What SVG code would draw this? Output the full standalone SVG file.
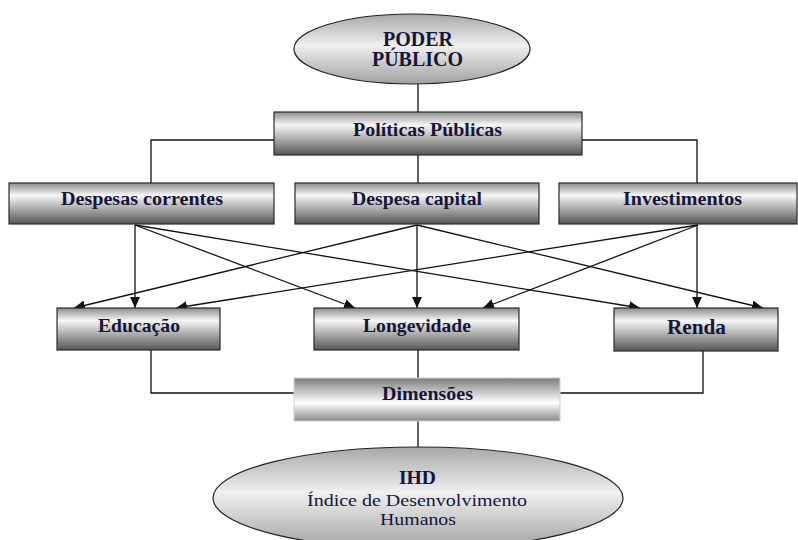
<svg xmlns="http://www.w3.org/2000/svg" width="798" height="540" viewBox="0 0 798 540">
<style>
.box{fill:url(#gBox);stroke:#2a2a2a;stroke-width:1.2}
.dim{fill:url(#gDim);stroke:#d0d0d0;stroke-width:1}
.ell{fill:url(#gEll);stroke:#222;stroke-width:1.2}
text{font-family:'Liberation Serif','DejaVu Serif',serif;fill:#16163a;text-anchor:middle}
.t{font-weight:bold}
.r{font-weight:normal}
.ln{fill:none;stroke:#111;stroke-width:1.3}
.ar{fill:none;stroke:#111;stroke-width:1.3;marker-end:url(#ah)}
</style>
<defs>
<linearGradient id="gBox" x1="0" y1="0" x2="0" y2="1">
<stop offset="0" stop-color="#8c8c8c"/>
<stop offset="0.3" stop-color="#f6f6f6"/>
<stop offset="1" stop-color="#555"/>
</linearGradient>
<linearGradient id="gDim" x1="0" y1="0" x2="0" y2="1">
<stop offset="0" stop-color="#7c7c7c"/>
<stop offset="0.58" stop-color="#ffffff"/>
<stop offset="1" stop-color="#8a8a8a"/>
</linearGradient>
<linearGradient id="gEll" x1="0" y1="0" x2="0" y2="1">
<stop offset="0" stop-color="#a8a8a8"/>
<stop offset="0.45" stop-color="#f0f0f0"/>
<stop offset="1" stop-color="#a0a0a0"/>
</linearGradient>
<marker id="ah" markerUnits="userSpaceOnUse" markerWidth="11" markerHeight="10" refX="11" refY="5" orient="auto">
<path d="M0,0 L11,5 L0,10 z" fill="#111"/>
</marker>
</defs>

<g id="connectors">
<path class="ln" d="M418,84 V112"/>
<path class="ln" d="M418,155 V183"/>
<path class="ln" d="M274,140 H151 V183"/>
<path class="ln" d="M582,140 H697 V183"/>
<path class="ar" d="M135,225 L135,308"/>
<path class="ar" d="M135,225 L355,308"/>
<path class="ar" d="M135,225 L640,308"/>
<path class="ar" d="M417,225 L74,308"/>
<path class="ar" d="M417,225 L417,308"/>
<path class="ar" d="M417,225 L763,308"/>
<path class="ar" d="M698,225 L176,308"/>
<path class="ar" d="M698,225 L483,308"/>
<path class="ar" d="M697,225 L697,308"/>
<path class="ln" d="M151,350 V393 H294"/>
<path class="ln" d="M418,350 V378"/>
<path class="ln" d="M703,351 V393 H560"/>
<path class="ln" d="M418,421 V447"/>
</g>

<g id="poder-publico">
<ellipse class="ell" cx="412" cy="49" rx="118" ry="35"/>
<text class="t" x="418" y="46" font-size="20" textLength="70" lengthAdjust="spacingAndGlyphs">PODER</text>
<text class="t" x="417.5" y="66" font-size="20" textLength="91" lengthAdjust="spacingAndGlyphs">PÚBLICO</text>
</g>

<g id="politicas-publicas">
<rect class="box" x="274" y="112" width="308" height="43"/>
<text class="t" x="427.5" y="136" font-size="18" textLength="149" lengthAdjust="spacingAndGlyphs">Políticas Públicas</text>
</g>

<g id="despesas-correntes">
<rect class="box" x="9" y="183" width="265" height="41"/>
<text class="t" x="142" y="205" font-size="18" textLength="162" lengthAdjust="spacingAndGlyphs">Despesas correntes</text>
</g>

<g id="despesa-capital">
<rect class="box" x="295" y="183" width="244" height="41"/>
<text class="t" x="417" y="205" font-size="18" textLength="130" lengthAdjust="spacingAndGlyphs">Despesa capital</text>
</g>

<g id="investimentos">
<rect class="box" x="559" y="183" width="238" height="41"/>
<text class="t" x="682.5" y="205" font-size="18" textLength="119" lengthAdjust="spacingAndGlyphs">Investimentos</text>
</g>

<g id="educacao">
<rect class="box" x="57" y="308" width="163" height="42"/>
<text class="t" x="139" y="332" font-size="18" textLength="82" lengthAdjust="spacingAndGlyphs">Educação</text>
</g>

<g id="longevidade">
<rect class="box" x="314" y="308" width="205" height="42"/>
<text class="t" x="417" y="332" font-size="18" textLength="108" lengthAdjust="spacingAndGlyphs">Longevidade</text>
</g>

<g id="renda">
<rect class="box" x="614" y="308" width="164" height="43"/>
<text class="t" x="696.5" y="334" font-size="21" textLength="59" lengthAdjust="spacingAndGlyphs">Renda</text>
</g>

<g id="dimensoes">
<rect class="dim" x="294" y="378" width="266" height="43"/>
<text class="t" x="427.5" y="400" font-size="18" textLength="91" lengthAdjust="spacingAndGlyphs">Dimensões</text>
</g>

<g id="ihd">
<ellipse class="ell" cx="418" cy="498" rx="205" ry="51"/>
<text class="t" x="417.5" y="484" font-size="18" textLength="37" lengthAdjust="spacingAndGlyphs">IHD</text>
<text class="r" x="417" y="506" font-size="16" textLength="220" lengthAdjust="spacingAndGlyphs">Índice de Desenvolvimento</text>
<text class="r" x="418" y="525" font-size="16" textLength="76" lengthAdjust="spacingAndGlyphs">Humanos</text>
</g>
</svg>
